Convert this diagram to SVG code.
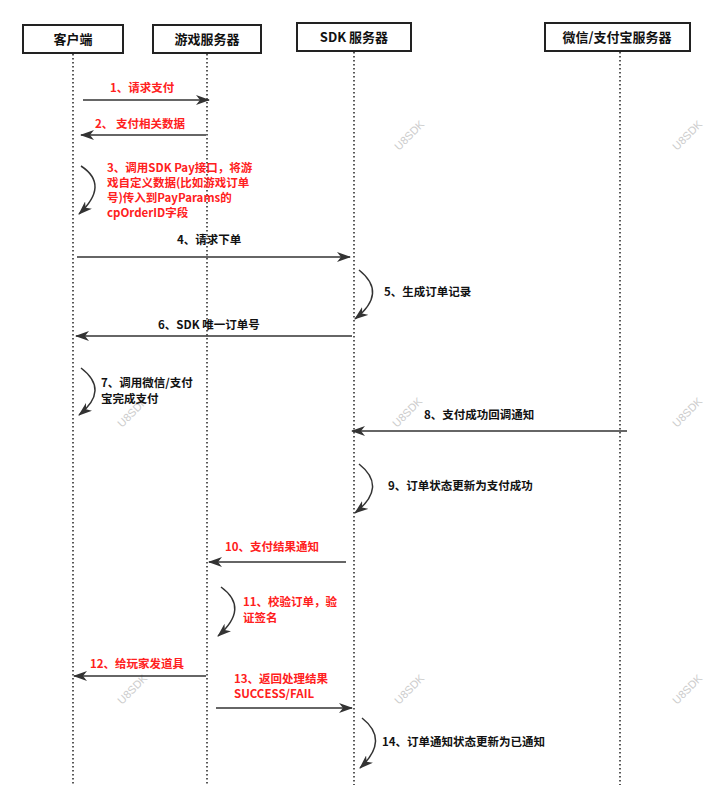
<svg xmlns="http://www.w3.org/2000/svg" width="712" height="806" viewBox="0 0 712 806">
<style>
.box{fill:#fff;stroke:#222;stroke-width:2}
.ht{font-family:"Noto Sans CJK SC","Noto Sans",sans-serif;font-size:13px;font-weight:bold;fill:#111;text-anchor:middle}
.life{stroke:#222;stroke-width:1.5;stroke-dasharray:1.5 2.5}
.m{stroke:#333;stroke-width:1.5;fill:none;marker-end:url(#ah)}
.t{font-family:"Noto Sans CJK SC","Noto Sans",sans-serif;font-size:11.5px;font-weight:bold;fill:#111}
.r{fill:#ff2020}
.wm{font-family:"Liberation Sans",sans-serif;font-size:11px;fill:#ccc}
</style>
<defs><marker id="ah" markerWidth="14" markerHeight="10" refX="13" refY="5" orient="auto" markerUnits="userSpaceOnUse"><path d="M0,0 L14,5 L0,10 L4,5 Z" fill="#333"/></marker></defs>
<rect width="712" height="806" fill="#fff"/>
<g id="watermarks">
<text class="wm" transform="translate(412,138) rotate(-45)" text-anchor="middle">U8SDK</text>
<text class="wm" transform="translate(690,138) rotate(-45)" text-anchor="middle">U8SDK</text>
<text class="wm" transform="translate(135,415) rotate(-45)" text-anchor="middle">U8SDK</text>
<text class="wm" transform="translate(410,415) rotate(-45)" text-anchor="middle">U8SDK</text>
<text class="wm" transform="translate(690,415) rotate(-45)" text-anchor="middle">U8SDK</text>
<text class="wm" transform="translate(135,692) rotate(-45)" text-anchor="middle">U8SDK</text>
<text class="wm" transform="translate(412,692) rotate(-45)" text-anchor="middle">U8SDK</text>
<text class="wm" transform="translate(690,692) rotate(-45)" text-anchor="middle">U8SDK</text>
</g>
<g id="lifelines">
<line class="life" x1="73" y1="54" x2="73" y2="785"/>
<line class="life" x1="207" y1="54" x2="207" y2="785"/>
<line class="life" x1="354" y1="52" x2="354" y2="785"/>
<line class="life" x1="620" y1="52" x2="620" y2="785"/>
</g>
<g id="client"><rect class="box" x="23" y="25" width="100" height="28"/><text class="ht" x="73" y="44">客户端</text></g>
<g id="game"><rect class="box" x="153" y="25" width="108" height="28"/><text class="ht" x="207" y="44">游戏服务器</text></g>
<g id="sdk"><rect class="box" x="297" y="23" width="114" height="28"/><text class="ht" x="354" y="42">SDK 服务器</text></g>
<g id="pay"><rect class="box" x="545" y="23" width="145" height="28"/><text class="ht" x="617" y="42">微信/支付宝服务器</text></g>
<g id="connectors">
<line class="m" x1="83" y1="100" x2="209" y2="100"/>
<text class="t r" x="110" y="92">1、请求支付</text>
<line class="m" x1="206" y1="135" x2="81" y2="135"/>
<text class="t r" x="95" y="128">2、 支付相关数据</text>
<path class="m" d="M81,166 Q110,185 79,214"/>
<text class="t r" x="107" y="172">3、调用SDK Pay接口，将游</text>
<text class="t r" x="107" y="187">戏自定义数据(比如游戏订单</text>
<text class="t r" x="107" y="202">号)传入到PayParams的</text>
<text class="t r" x="107" y="217">cpOrderID字段</text>
<line class="m" x1="77" y1="257" x2="350" y2="257"/>
<text class="t" x="177" y="244">4、请求下单</text>
<path class="m" d="M359,270 Q388,293 355,319"/>
<text class="t" x="384" y="296">5、生成订单记录</text>
<line class="m" x1="352" y1="336" x2="76" y2="336"/>
<text class="t" x="158" y="329">6、SDK 唯一订单号</text>
<path class="m" d="M81,368 Q110,390 79,415"/>
<text class="t" x="101" y="387">7、调用微信/支付</text>
<text class="t" x="101" y="403">宝完成支付</text>
<line class="m" x1="627" y1="431" x2="352" y2="431"/>
<text class="t" x="424" y="419">8、支付成功回调通知</text>
<path class="m" d="M359,464 Q388,487 355,513"/>
<text class="t" x="388" y="490">9、订单状态更新为支付成功</text>
<line class="m" x1="346" y1="562" x2="209" y2="562"/>
<text class="t r" x="225" y="551">10、支付结果通知</text>
<path class="m" d="M221,587 Q250,608 218,636"/>
<text class="t r" x="243" y="606">11、校验订单，验</text>
<text class="t r" x="243" y="622">证签名</text>
<line class="m" x1="206" y1="676" x2="74" y2="676"/>
<text class="t r" x="90" y="668">12、给玩家发道具</text>
<line class="m" x1="216" y1="708" x2="352" y2="708"/>
<text class="t r" x="234" y="683">13、返回处理结果</text>
<text class="t r" x="234" y="698">SUCCESS/FAIL</text>
<path class="m" d="M362,718 Q390,740 360,768"/>
<text class="t" x="382" y="746">14、订单通知状态更新为已通知</text>
</g>
</svg>
